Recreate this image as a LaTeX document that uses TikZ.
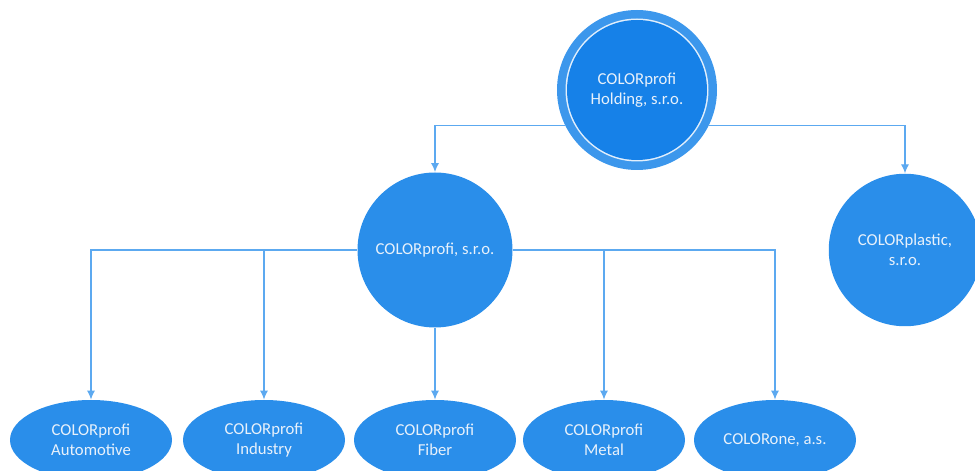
\documentclass[tikz,border=0pt]{standalone}
\usepackage{fontspec}
\setmainfont{Carlito}
\usetikzlibrary{positioning,shapes.geometric,arrows.meta}
\definecolor{firmblue}{HTML}{2A8EEA}
\definecolor{holdblue}{HTML}{1681E8}
\definecolor{ringblue}{HTML}{3C97EC}
\definecolor{linkblue}{HTML}{5CA9F0}
\definecolor{labelwhite}{HTML}{E8F1FB}

\begin{document}
\begin{tikzpicture}[-{Latex[length=5pt,width=4.5pt]},on grid,
    semithick,
    firm/.style={circle, fill=firmblue, text=labelwhite, minimum size=3.1cm,
      inner sep=0pt, align=center, font=\fontsize{9.5}{11.5}\selectfont},
    hold/.style={firm, fill=ringblue, minimum size=3.2cm,
      path picture={\fill[white!85!ringblue] (path picture bounding box.center) circle (1.43cm);
        \fill[holdblue] (path picture bounding box.center) circle (1.40cm);}},
    unit/.style={ellipse, fill=firmblue, text=labelwhite, minimum width=3.24cm,
      minimum height=1.6cm, inner sep=0pt, align=center,
      font=\fontsize{9.5}{11.5}\selectfont},
    link/.style={draw=linkblue}
    ]

    \useasboundingbox (0,0) rectangle (19.5,-9.42);

    \node[hold] (holding) at (12.74,-1.8) {COLORprofi\\Holding, s.r.o.};
    \node[firm] (profi) [below left=3.2cm and 4.04cm of holding] {COLORprofi, s.r.o.};
    \node[firm, minimum size=3.05cm] (plastic) [right=9.4cm of profi] {COLORplastic,\\s.r.o.};

    \node[unit] (fiber) [below=3.8cm of profi] {COLORprofi\\Fiber};
    \node[unit] (industry) [left=3.42cm of fiber] {COLORprofi\\Industry};
    \node[unit] (automotive) [left=3.46cm of industry] {COLORprofi\\Automotive};
    \node[unit] (metal) [right=3.38cm of fiber] {COLORprofi\\Metal};
    \node[unit] (colorone) [right=3.42cm of metal] {COLORone, a.s.};

    \draw[link] (holding.206) -| (profi);
    \draw[link] (holding.334) -| (plastic);
    \draw[link] (profi.west) -| (automotive);
    \draw[link] (profi.west) -| (industry);
    \draw[link] (profi) -- (fiber);
    \draw[link] (profi.east) -| (metal);
    \draw[link] (profi.east) -| (colorone);
    \end{tikzpicture}
\end{document}
